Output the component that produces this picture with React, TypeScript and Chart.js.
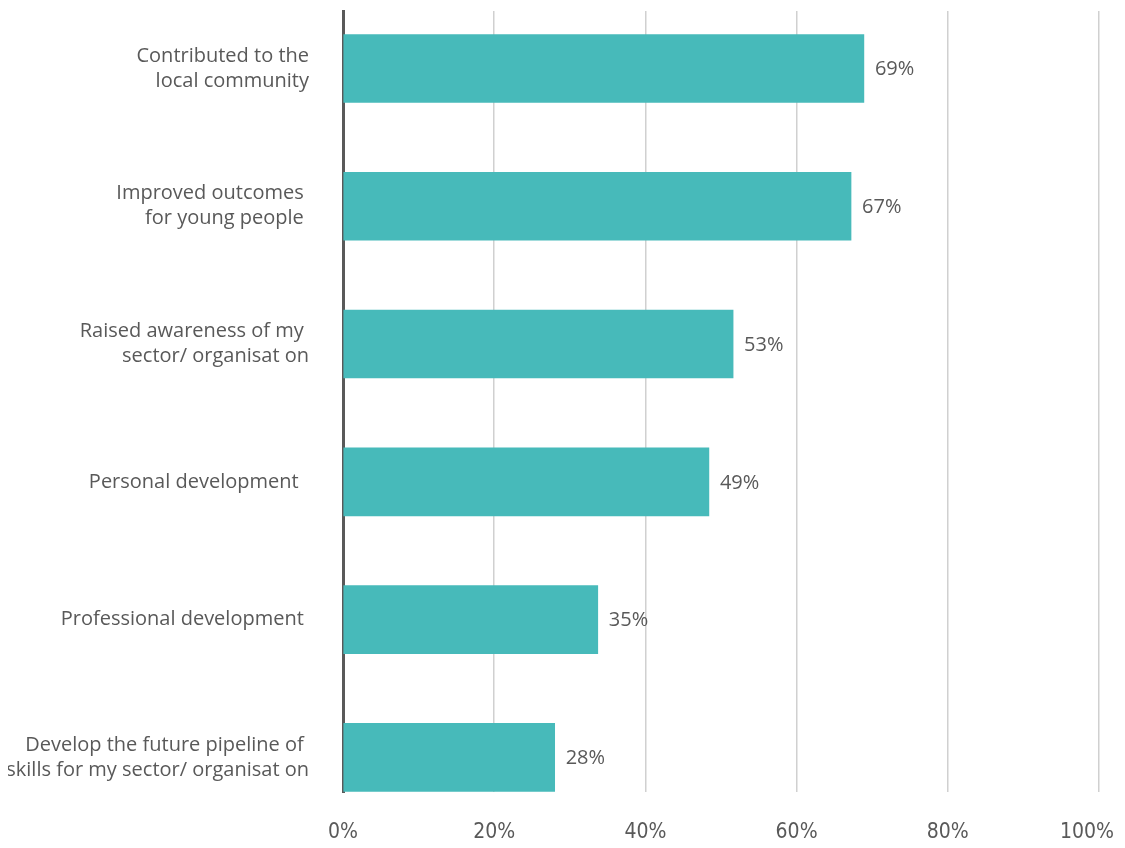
import React, { useEffect, useRef } from "react";
import { Chart, registerables } from "chart.js";

Chart.register(...registerables);

const categories: string[][] = [
  ["Contributed to the", "local community"],
  ["Improved outcomes ", "for young people "],
  ["Raised awareness of my ", "sector/ organisat on"],
  ["Personal development  "],
  ["Professional development "],
  ["Develop the future pipeline of ", "skills for my sector/ organisat on"],
];
const values: number[] = [68.9, 67.2, 51.6, 48.4, 33.7, 28.0];
const valueLabels: string[] = ["69%", "67%", "53%", "49%", "35%", "28%"];
const xTicks: number[] = [0, 20, 40, 60, 80, 100];

const TEXT = "#595959";
const BAR = "#47BABA";
const LABEL_FONT = '"Open Sans", "Noto Sans", sans-serif';
const AXIS_FONT = '"Liberation Sans Narrow", "DejaVu Sans", sans-serif';

const valueLabelPlugin = {
  id: "valueLabels",
  afterDatasetsDraw(chart: any) {
    const ctx = chart.ctx;
    const meta = chart.getDatasetMeta(0);
    ctx.save();
    ctx.fillStyle = TEXT;
    ctx.font = `20px ${LABEL_FONT}`;
    ctx.textAlign = "left";
    ctx.textBaseline = "middle";
    meta.data.forEach((bar: any, i: number) => {
      ctx.fillText(valueLabels[i], bar.x + 11, bar.y + 1);
    });
    ctx.restore();
  },
};

// x-axis tick labels, kept inside the canvas at the right edge
const xTickLabelPlugin = {
  id: "xTickLabels",
  afterDraw(chart: any) {
    const ctx = chart.ctx;
    const scale = chart.scales.x;
    ctx.save();
    ctx.fillStyle = TEXT;
    ctx.font = `condensed 21px ${AXIS_FONT}`;
    ctx.textAlign = "center";
    ctx.textBaseline = "middle";
    const y = chart.chartArea.bottom + 41;
    xTicks.forEach((v) => {
      const text = `${v}%`;
      const w = ctx.measureText(text).width;
      let x = scale.getPixelForValue(v);
      x = Math.min(x, chart.width - w / 2 - 3);
      ctx.fillText(text, x, y);
    });
    ctx.restore();
  },
};

const zeroPad = (scale: any) => {
  scale.paddingTop = 0;
  scale.paddingBottom = 0;
  scale.paddingLeft = 0;
  scale.paddingRight = 0;
};

export default function App() {
  const ref = useRef<HTMLCanvasElement | null>(null);
  useEffect(() => {
    if (!ref.current) return;
    const chart = new Chart(ref.current, {
      type: "bar",
      data: {
        datasets: [
          {
            data: values.map((v, i) => ({ x: v, y: i })),
            backgroundColor: BAR,
            borderWidth: 0,
            barThickness: 68,
          },
        ],
      },
      options: {
        animation: false,
        responsive: false,
        indexAxis: "y",
        layout: { padding: { top: 3, right: 18, left: 0, bottom: 0 } },
        plugins: { legend: { display: false }, tooltip: { enabled: false } },
        scales: {
          x: {
            type: "linear",
            min: 0,
            max: 100,
            afterBuildTicks: (scale: any) => {
              scale.ticks = xTicks.map((v) => ({ value: v }));
            },
            afterFit: (scale: any) => {
              scale.height = 48;
              zeroPad(scale);
            },
            ticks: { display: false },
            grid: { color: "#d0d0d0", lineWidth: 1.5, drawTicks: false },
            border: { display: false },
          },
          y: {
            type: "linear",
            reverse: true,
            offset: false,
            min: -0.417,
            max: 5.251,
            afterBuildTicks: (scale: any) => {
              scale.ticks = categories.map((_, i) => ({ value: i }));
            },
            afterFit: (scale: any) => {
              scale.width = 335;
              zeroPad(scale);
            },
            ticks: {
              callback: (v: any) => categories[v as number],
              color: TEXT,
              font: { family: LABEL_FONT, size: 20, lineHeight: 1.25 },
              padding: 34,
            },
            grid: { display: false, drawTicks: false, offset: false },
            border: { display: true, color: TEXT, width: 3 },
          },
        },
      },
      plugins: [valueLabelPlugin, xTickLabelPlugin],
    } as any);
    return () => chart.destroy();
  }, []);
  return (
    <div style={{ width: 1109, height: 832 }}>
      <canvas ref={ref} width={1109} height={832} style={{ display: "block" }} />
    </div>
  );
}
